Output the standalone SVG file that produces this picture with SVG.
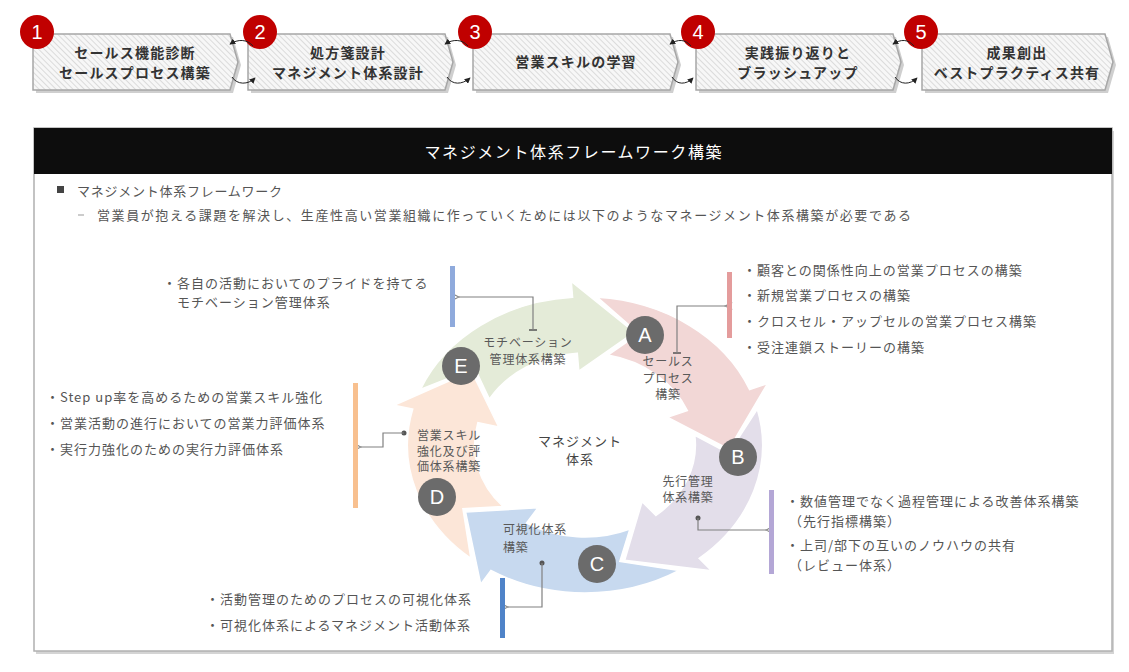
<svg xmlns="http://www.w3.org/2000/svg" width="1129" height="672" viewBox="0 0 1129 672">
<defs>
<pattern id="hatch" patternUnits="userSpaceOnUse" width="4" height="4" patternTransform="rotate(-45)">
<rect width="4" height="4" fill="#f7f7f7"/>
<line x1="0" y1="0" x2="0" y2="4" stroke="#cfcfcf" stroke-width="1.4"/>
</pattern>
<marker id="ah" viewBox="0 0 8 8" refX="7" refY="4" markerWidth="6" markerHeight="6" orient="auto" markerUnits="userSpaceOnUse">
<path d="M0,0 L8,4 L0,8 Z" fill="#222"/>
</marker>
<marker id="oa" viewBox="0 0 10 10" refX="1" refY="5" markerWidth="9" markerHeight="9" orient="auto-start-reverse" markerUnits="userSpaceOnUse">
<path d="M9,1 L1,5 L9,9" fill="none" stroke="#808080" stroke-width="1.2"/>
</marker>
<style>
.box{fill:url(#hatch);stroke:#a6a6a6;stroke-width:1.5}
.shadow{fill:#cfcfcf}
.num{fill:#c00000}
.numt{font-family:"Liberation Sans",Arial,sans-serif;font-size:20px;fill:#fff;text-anchor:middle}
.bt{font-family:"Noto Sans CJK JP",sans-serif;font-size:14px;font-weight:bold;fill:#333;text-anchor:middle;letter-spacing:1.2px}
.flow{fill:none;stroke:#222;stroke-width:1;marker-end:url(#ah)}
.tx{font-family:"Noto Sans CJK JP",sans-serif;font-size:13px;fill:#555;letter-spacing:1px}
.lb{font-family:"Noto Sans CJK JP",sans-serif;font-size:12px;fill:#595959;letter-spacing:0.8px}
.lbc{font-family:"Noto Sans CJK JP",sans-serif;font-size:12px;fill:#595959;letter-spacing:0.8px;text-anchor:middle}
.arr{stroke:#fff;stroke-width:1.5;vector-effect:non-scaling-stroke}
.badge{fill:#6b6b6b}
.bl{font-family:"Liberation Sans",Arial,sans-serif;font-size:20px;fill:#fff;text-anchor:middle}
.cn{fill:none;stroke:#808080;stroke-width:1.2}
.cna{fill:none;stroke:#808080;stroke-width:1.2;marker-end:url(#oa)}
</style>
</defs>
<rect width="1129" height="672" fill="#fff"/>

<!-- top process steps -->
<g id="step1">
<path class="shadow" d="M36,37 H233 L241,65 L233,93 H36 Z"/>
<path class="box" d="M33,34 H230 L238,62 L230,90 H33 Z"/>
<text class="bt" x="135" y="58">セールス機能診断</text>
<text class="bt" x="135" y="78">セールスプロセス構築</text>
<circle class="num" cx="37" cy="32" r="17"/>
<text class="numt" x="37" y="39">1</text>
</g>
<g id="step2">
<path class="shadow" d="M251,37 H448 L456,65 L448,93 H251 Z"/>
<path class="box" d="M248,34 H445 L453,62 L445,90 H248 Z"/>
<text class="bt" x="348" y="58">処方箋設計</text>
<text class="bt" x="348" y="78">マネジメント体系設計</text>
<circle class="num" cx="260" cy="32" r="17"/>
<text class="numt" x="260" y="39">2</text>
</g>
<g id="step3">
<path class="shadow" d="M476,37 H673 L681,65 L673,93 H476 Z"/>
<path class="box" d="M473,34 H670 L678,62 L670,90 H473 Z"/>
<text class="bt" x="576" y="67">営業スキルの学習</text>
<circle class="num" cx="475" cy="32" r="17"/>
<text class="numt" x="475" y="39">3</text>
</g>
<g id="step4">
<path class="shadow" d="M699,37 H896 L904,65 L896,93 H699 Z"/>
<path class="box" d="M696,34 H893 L901,62 L893,90 H696 Z"/>
<text class="bt" x="798" y="58">実践振り返りと</text>
<text class="bt" x="798" y="78">ブラッシュアップ</text>
<circle class="num" cx="698" cy="32" r="17"/>
<text class="numt" x="698" y="39">4</text>
</g>
<g id="step5">
<path class="shadow" d="M925,37 H1108 L1116,65 L1108,93 H925 Z"/>
<path class="box" d="M922,34 H1105 L1113,62 L1105,90 H922 Z"/>
<text class="bt" x="1017" y="58">成果創出</text>
<text class="bt" x="1017" y="78">ベストプラクティス共有</text>
<circle class="num" cx="921" cy="32" r="17"/>
<text class="numt" x="921" y="39">5</text>
</g>

<g id="step-connectors">
<path class="flow" d="M253,46 C247,39 238,39 230,44"/>
<path class="flow" d="M232,77 C237,85 248,85 255,78"/>
<path class="flow" d="M468,46 C462,39 453,39 445,44"/>
<path class="flow" d="M447,77 C452,85 462,85 470,78"/>
<path class="flow" d="M691,46 C685,39 678,39 670,44"/>
<path class="flow" d="M672,77 C677,85 686,85 693,78"/>
<path class="flow" d="M914,46 C908,39 901,39 893,44"/>
<path class="flow" d="M895,77 C900,85 910,85 917,78"/>
</g>

<!-- section frame -->
<g id="frame">
<rect x="36" y="131" width="1078" height="523" fill="#d4d4d4"/>
<rect x="34" y="128" width="1078" height="523" fill="#fff" stroke="#b0b0b0" stroke-width="1.5"/>
<rect x="34" y="128" width="1078" height="46" fill="#0d0d0d"/>
<text x="573" y="158" font-family="Noto Sans CJK JP, sans-serif" font-size="16" fill="#fff" text-anchor="middle" textLength="297" lengthAdjust="spacing">マネジメント体系フレームワーク構築</text>
<rect x="57" y="186" width="7" height="7" fill="#444"/>
<text class="tx" x="77" y="196" textLength="206" lengthAdjust="spacing">マネジメント体系フレームワーク</text>
<line x1="78" y1="215" x2="84" y2="215" stroke="#999" stroke-width="1"/>
<text class="tx" x="97" y="220" textLength="815" lengthAdjust="spacing">営業員が抱える課題を解決し、生産性高い営業組織に作っていくためには以下のようなマネージメント体系構築が必要である</text>
</g>

<!-- cycle arrows -->
<g id="cycle" transform="translate(585,445) scale(1.2,1)">
<path id="arrowA" class="arr" fill="#f2d7d6" d="M10.33,-147.64 A148,148 0 0 1 137.22,-55.44 L152.06,-61.43 L119.93,4.19 L68.61,-27.72 L85.30,-34.46 A92,92 0 0 0 19.13,-89.99 L44.95,-111.26 Z"/>
<path id="arrowB" class="arr" fill="#e3deea" d="M143.60,-35.81 A148,148 0 0 1 95.13,113.37 L105.42,125.63 L33.08,115.35 L47.57,56.69 L59.14,70.48 A92,92 0 0 0 91.50,-9.62 L119.71,8.37 Z"/>
<path id="arrowC" class="arr" fill="#c7d9ef" d="M78.43,125.51 A148,148 0 0 1 -78.43,125.51 L-86.91,139.08 L-99.48,67.10 L-39.21,62.75 L-48.75,78.02 A92,92 0 0 0 37.42,84.04 L29.03,116.43 Z"/>
<path id="arrowD" class="arr" fill="#fce6d8" d="M-95.13,113.37 A148,148 0 0 1 -143.60,-35.81 L-159.13,-39.68 L-94.56,-73.88 L-71.80,-17.90 L-89.27,-22.26 A92,92 0 0 0 -68.37,61.56 L-101.76,63.59 Z"/>
<path id="arrowE" class="arr" fill="#e4ebd8" d="M-137.22,-55.44 A148,148 0 0 1 -10.33,-147.64 L-11.45,-163.61 L41.04,-112.76 L-5.16,-73.82 L-6.42,-91.78 A92,92 0 0 0 -79.67,-46.0 L-91.92,-77.13 Z"/>
</g>

<g id="cycle-labels">
<text class="lbc" x="528" y="347">モチベーション</text>
<text class="lbc" x="528" y="364">管理体系構築</text>
<text class="lbc" x="668" y="366">セールス</text>
<text class="lbc" x="668" y="383">プロセス</text>
<text class="lbc" x="668" y="399">構築</text>
<text class="lbc" x="688" y="486">先行管理</text>
<text class="lbc" x="688" y="502">体系構築</text>
<text class="lb" x="503" y="534">可視化体系</text>
<text class="lb" x="503" y="552">構築</text>
<text class="lb" x="417" y="440">営業スキル</text>
<text class="lb" x="417" y="456">強化及び評</text>
<text class="lb" x="417" y="471">価体系構築</text>
<text x="580" y="446" font-family="Noto Sans CJK JP, sans-serif" font-size="13" fill="#444" text-anchor="middle" letter-spacing="1">マネジメント</text>
<text x="580" y="464" font-family="Noto Sans CJK JP, sans-serif" font-size="13" fill="#444" text-anchor="middle" letter-spacing="1">体系</text>
</g>

<!-- connectors -->
<g id="connectors">
<line x1="529" y1="330" x2="537" y2="330" stroke="#555" stroke-width="1.5"/>
<path class="cna" d="M533,330 V297 H459"/>
<line x1="673" y1="353" x2="681" y2="353" stroke="#555" stroke-width="1.5"/>
<path class="cna" d="M677,353 V306 H725"/>
<circle cx="698" cy="518" r="2.5" fill="#555"/>
<path class="cna" d="M698,518 V530 H766"/>
<circle cx="542" cy="563" r="2.5" fill="#555"/>
<path class="cna" d="M542,563 V607 H508"/>
<circle cx="404" cy="433" r="2.5" fill="#555"/>
<path class="cna" d="M404,433 H383 V447 H361"/>
</g>

<g id="badges">
<g id="badgeA"><circle class="badge" cx="645" cy="335" r="19"/><text class="bl" x="645" y="342">A</text></g>
<g id="badgeB"><circle class="badge" cx="738" cy="457" r="19"/><text class="bl" x="738" y="464">B</text></g>
<g id="badgeC"><circle class="badge" cx="597" cy="564" r="19"/><text class="bl" x="597" y="571">C</text></g>
<g id="badgeD"><circle class="badge" cx="437" cy="497" r="19"/><text class="bl" x="437" y="504">D</text></g>
<g id="badgeE"><circle class="badge" cx="461" cy="366" r="19"/><text class="bl" x="461" y="373">E</text></g>
</g>

<!-- notes -->
<g id="noteE">
<rect x="450" y="266" width="5" height="61" fill="#8faadc"/>
<text class="tx" x="163" y="288">・各自の活動においてのプライドを持てる</text>
<text class="tx" x="177" y="307">モチベーション管理体系</text>
</g>
<g id="noteA">
<rect x="727" y="272" width="5" height="66" fill="#e49c9c"/>
<text class="tx" x="743" y="275">・顧客との関係性向上の営業プロセスの構築</text>
<text class="tx" x="743" y="300">・新規営業プロセスの構築</text>
<text class="tx" x="743" y="326">・クロスセル・アップセルの営業プロセス構築</text>
<text class="tx" x="743" y="352">・受注連鎖ストーリーの構築</text>
</g>
<g id="noteD">
<rect x="353" y="383" width="5" height="125" fill="#f8c08f"/>
<text class="tx" x="46" y="402">・Step up率を高めるための営業スキル強化</text>
<text class="tx" x="46" y="428">・営業活動の進行においての営業力評価体系</text>
<text class="tx" x="46" y="454">・実行力強化のための実行力評価体系</text>
</g>
<g id="noteB">
<rect x="769" y="490" width="5" height="84" fill="#b4a7d6"/>
<text class="tx" x="786" y="506">・数値管理でなく過程管理による改善体系構築</text>
<text class="tx" x="789" y="526">（先行指標構築）</text>
<text class="tx" x="786" y="550">・上司/部下の互いのノウハウの共有</text>
<text class="tx" x="789" y="570">（レビュー体系）</text>
</g>
<g id="noteC">
<rect x="500" y="578" width="5" height="60" fill="#4f83c8"/>
<text class="tx" x="206" y="604">・活動管理のためのプロセスの可視化体系</text>
<text class="tx" x="206" y="630">・可視化体系によるマネジメント活動体系</text>
</g>
</svg>
